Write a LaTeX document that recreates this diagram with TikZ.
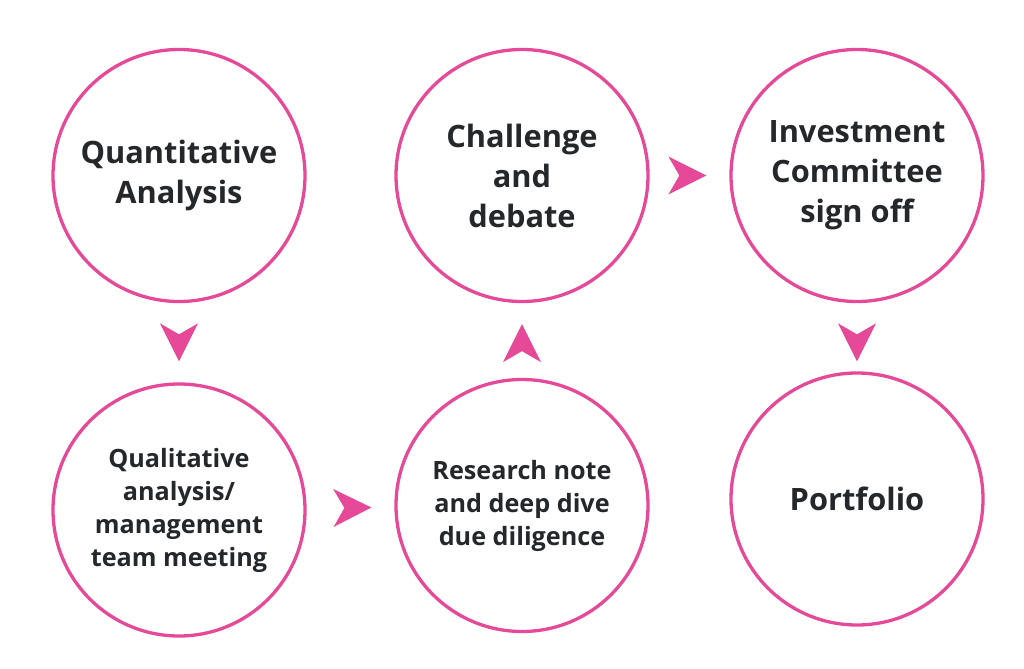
\documentclass[tikz,border=0pt]{standalone}
\usepackage{fontspec}
\setmainfont{Open Sans}
\usetikzlibrary{arrows.meta,decorations.markings}
\definecolor{rosa}{RGB}{229,73,151}
\definecolor{ink}{RGB}{36,40,43}
\tikzset{
	stage/.style={circle,draw=rosa,line width=1.65pt,minimum size=126pt,inner sep=0pt,
		text=ink,align=center,font=\bfseries\fontsize{15.4}{20}\selectfont},
	smalltext/.style={font=\bfseries\fontsize{12.6}{16.5}\selectfont},
	flow/.style={postaction={decorate},decoration={markings,
		mark=at position #1 with {\arrow{Stealth[length=19pt,width=19pt,inset=5.5pt,line width=0pt,rosa]}}}}
}
\begin{document}
\begin{tikzpicture}[x=0.5pt,y=-0.5pt]
		\useasboundingbox (0,0) rectangle (1024,669);
		\node[stage] (quant) at (179,175.5) {Quantitative\\Analysis};
		\node[stage] (debate) at (522,175.5) {Challenge\\and\\debate};
		\node[stage] (signoff) at (857,175.5) {Investment\\Committee\\sign off};
		\node[stage,smalltext] (qual) at (179,510) {Qualitative\\analysis/\\management\\team meeting};
		\node[stage,smalltext] (research) at (522,505.5) {Research note\\and deep dive\\due diligence};
		\node[stage] (portfolio) at (857,499) {Portfolio};
		\path[flow=-10.5pt] (quant) -- (qual);
		\path[flow=-11.5pt] (qual) -- (research);
		\path[flow=-10.5pt] (research) -- (debate);
		\path[flow=-11.5pt] (debate) -- (signoff);
		\path[flow=-5pt] (signoff) -- (portfolio);
	\end{tikzpicture}
\end{document}
